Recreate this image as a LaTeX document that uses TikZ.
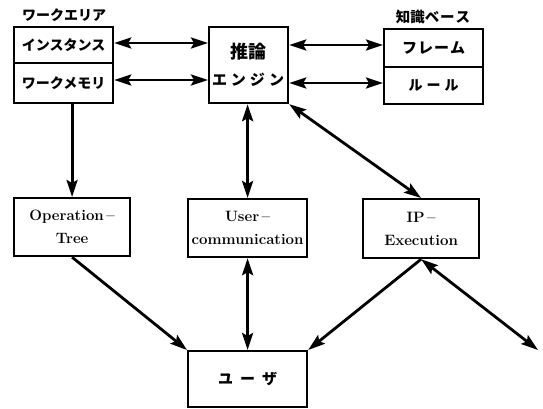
\documentclass[tikz,border=0pt]{standalone}
\usepackage{fontspec}
\newfontfamily\jp{Noto Sans CJK JP}
\usetikzlibrary{arrows.meta}
\begin{document}
\begin{tikzpicture}[x=1pt,y=-1pt,
  box/.style={draw,line width=2.2pt,inner sep=0pt,anchor=north west,align=center},
  jptxt/.style={font=\jp\bfseries\fontsize{14}{16}\selectfont},
  latxt/.style={font=\bfseries\fontsize{15}{23}\selectfont},
  arr/.style={line width=2.8pt,-{Stealth[length=17pt,width=11pt,inset=3pt]}},
  darr/.style={line width=2.8pt,{Stealth[length=17pt,width=11pt,inset=3pt]}-{Stealth[length=17pt,width=11pt,inset=3pt]}}]
\useasboundingbox (0,0) rectangle (543,408);
% work area
\node[box,jptxt,minimum width=99pt,minimum height=36pt] (inst) at (13,26) {インスタンス};
\node[box,jptxt,minimum width=99pt,minimum height=40pt] (wmem) at (13,62) {ワークメモリ};
\node[jptxt,inner sep=0pt] (wal) at (64,15) {ワークエリア};
% inference engine
\node[box,minimum width=79pt,minimum height=76pt] (inf) at (208,26) {};
\node[font=\jp\bfseries\fontsize{18}{20}\selectfont,inner sep=0pt] (inft) at (248,52) {推論};
\node[font=\jp\bfseries\fontsize{15}{16}\selectfont,inner sep=0pt] (infe) at (248,80) {エ\hspace{4pt}ン\hspace{4pt}ジ\hspace{4pt}ン};
% knowledge base
\node[box,font=\jp\bfseries\fontsize{15}{16}\selectfont,minimum width=99pt,minimum height=38pt] (frame) at (383,28) {フ\hspace{1pt}レ\hspace{1pt}ー\hspace{1pt}ム};
\node[box,jptxt,minimum width=99pt,minimum height=37pt] (rule) at (383,66) {ル\hspace{4pt}ー\hspace{4pt}ル};
\node[font=\jp\bfseries\fontsize{14.5}{16}\selectfont,inner sep=0pt] (kbl) at (433,17) {知識ベ\hspace{1pt}ー\hspace{1pt}ス};
% middle row
\node[box,latxt,minimum width=116pt,minimum height=58pt] (op) at (13,197) {Operation\,--\\Tree};
\node[box,latxt,minimum width=119pt,minimum height=58pt] (uc) at (187,198) {User\,--\\communication};
\node[box,latxt,minimum width=116pt,minimum height=59pt] (ip) at (362,198) {IP\,--\\Execution};
% user
\node[box,font=\jp\bfseries\fontsize{15}{16}\selectfont,minimum width=119pt,minimum height=56pt] (user) at (187,350) {ユ\hspace{7pt}ー\hspace{7pt}ザ};
\coordinate (out) at (538,350);
% connectors
\draw[darr] (inst.east |- 0,43) -- (inf.west |- 0,43);
\draw[darr] (wmem.east |- 0,80) -- (inf.west |- 0,80);
\draw[darr] (inf.east |- 0,45) -- (frame.west |- 0,45);
\draw[darr] (inf.east |- 0,83) -- (rule.west |- 0,83);
\draw[arr] (op.north |- wmem.south) -- (op.north);
\draw[darr] (inf.south -| uc.north) -- (uc.north);
\draw[darr] (inf.south east) -- (ip.north);
\draw[arr] (op.south) -- (user.north west);
\draw[darr] (uc.south) -- (user.north);
\draw[arr] (ip.south) -- (user.north east);
\draw[darr] (ip.south) -- (out);
\end{tikzpicture}
\end{document}
